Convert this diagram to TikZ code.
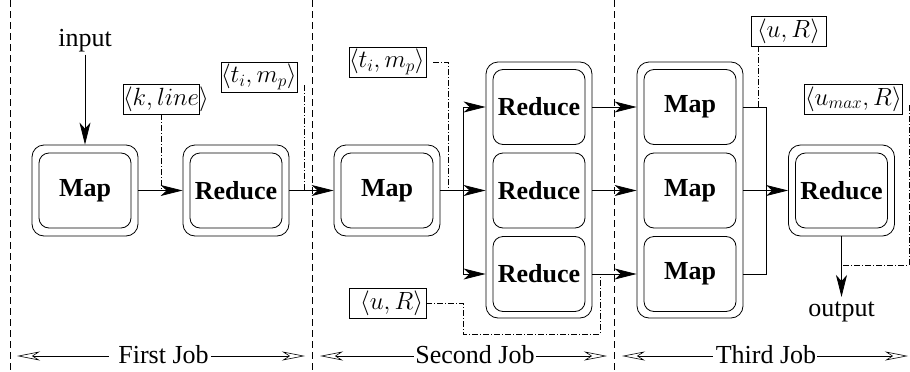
\documentclass[tikz,border=0pt]{standalone}
\usepackage{fontspec}
\setmainfont{Liberation Serif}
\usetikzlibrary{arrows.meta}
\tikzset{jtip/.tip={Stealth[open,length=23pt,width=9pt,inset=7pt]},
  atip/.tip={Stealth[length=22pt,width=11pt,inset=6pt]}}
\begin{document}
\begin{tikzpicture}[x=1pt,y=-1pt,
  every node/.style={font=\fontsize{26}{30}\selectfont, inner sep=0pt},
  outerbox/.style={draw, rounded corners=12pt, line width=0.8pt, minimum width=106pt},
  innerbox/.style={draw, rounded corners=10pt, line width=0.8pt, minimum width=92pt, minimum height=75pt, font=\fontsize{26}{30}\selectfont\bfseries},
  arr/.style={-atip, line width=0.8pt},
  conn/.style={line width=0.8pt},
  dd/.style={line width=0.6pt, dash pattern=on 6pt off 2pt on 1pt off 2pt},
  lbox/.style={draw, line width=0.6pt, minimum height=30pt, inner sep=0pt, font=\fontsize{26.5}{30}\selectfont},
  sepline/.style={line width=0.6pt, dash pattern=on 7pt off 4pt},
  jobarr/.style={line width=0.6pt}]
\useasboundingbox (0,0) rectangle (910,372);

% separators
\draw[sepline] (10,0) -- (10,372);
\draw[sepline] (312,0) -- (312,372);
\draw[sepline] (614,0) -- (614,372);

% first job
\node[outerbox, minimum height=91pt] (m1o) at (85,190.5) {};
\node[innerbox] (m1) at (85,190.5) {Map};
\node[outerbox, minimum height=91pt] (r1o) at (236,190.5) {};
\node[innerbox] (r1) at (236,190.5) {Reduce};

% second job
\node[outerbox, minimum height=91pt] (m2o) at (387,190.5) {};
\node[innerbox] (m2) at (387,190.5) {Map};
\node[outerbox, minimum height=256pt] (rco) at (539,190) {};
\node[innerbox] (rc1) at (539,107) {Reduce};
\node[innerbox] (rc2) at (539,190.5) {Reduce};
\node[innerbox] (rc3) at (539,274) {Reduce};

% third job
\node[outerbox, minimum height=256pt] (mco) at (690,190) {};
\node[innerbox] (mc1) at (690,107) {Map};
\node[innerbox] (mc2) at (690,190.5) {Map};
\node[innerbox] (mc3) at (690,274) {Map};
\node[outerbox, minimum height=91pt] (r3o) at (841.5,190.5) {};
\node[innerbox] (r3) at (841.5,190.5) {Reduce};

% input / output
\node (in) at (85,41) {input};
\node[anchor=north] (out) at (841.5,302) {output};
\draw[arr] (in.south) ++(0,2) -- (m1o.north);
\draw[arr] (r3o.south) -- ([yshift=5pt]out.north);

% connectors
\draw[arr] (m1o.east) -- (r1o.west);
\draw[arr] (r1o.east) -- (m2o.west |- r1o.east);
\coordinate (s2) at (463,190.5);
\draw[conn] (m2o.east) -- (s2);
\draw[conn] (s2 |- rc1) -- (s2 |- rc3);
\draw[arr] (s2 |- rc1) -- (rco.west |- rc1);
\draw[arr] (s2) -- (rco.west |- rc2);
\draw[arr] (s2 |- rc3) -- (rco.west |- rc3);
\draw[arr] (rco.east |- rc1) -- (mco.west |- rc1);
\draw[arr] (rco.east |- rc2) -- (mco.west |- rc2);
\draw[arr] (rco.east |- rc3) -- (mco.west |- rc3);
\coordinate (s3) at (766,190.5);
\draw[conn] (mco.east |- mc1) -- (s3 |- mc1) -- (s3 |- mc3) -- (mco.east |- mc3);
\draw[arr] (mco.east |- mc2) -- (r3o.west);

% labels
\node[lbox] (kl) at (161,99) {\makebox[76pt][l]{$\langle k, line\rangle$}};
\draw[dd] (kl.south) -- (kl.south |- m1o.east);

\node[lbox] (tm1) at (259,77) {\makebox[76pt][l]{$\langle t_i, m_p\rangle$}};
\coordinate (tm1e) at (304,85);
\draw[dd] (tm1e) -- (tm1e |- r1o.east);

\node[lbox] (tm2) at (387.5,62) {\makebox[77pt][l]{$\langle t_i, m_p\rangle$}};
\coordinate (tm2e) at (433,62);
\coordinate (d2) at (448,190.5);
\draw[dd] (tm2e) -| (d2);

\node[lbox] (urb) at (387.5,303) {\makebox[77pt][r]{$\langle u, R\rangle$\hspace{3pt}}};
\coordinate (b1) at (463,334);
\coordinate (b2) at (600,276);
\draw[dd] (urb.east) -| (b1) -| (b2);

\node[lbox] (urt) at (788.5,31) {\makebox[75pt][c]{$\langle u, R\rangle$}};
\coordinate (t1) at (758,107);
\draw[dd] (urt.south -| t1) -- (t1);

\node[lbox] (um) at (853,99) {\makebox[98pt][l]{\hspace{1pt}$\langle u_{max}, R\rangle$}};
\coordinate (um1) at (909,105);
\coordinate (um2) at (841.5,265);
\draw[dd] (um1) |- (um2);

% job labels
\node (j1) at (163.5,355) {First Job};
\node (j2) at (475,355) {Second Job};
\node (j3) at (766,355) {Third Job};
\coordinate (j1l) at (17,356);
\coordinate (j1r) at (305,356);
\coordinate (j2l) at (320,356);
\coordinate (j2r) at (607,356);
\coordinate (j3l) at (622,356);
\coordinate (j3r) at (908,356);
\draw[jobarr, jtip-] (j1l) -- ([xshift=-9pt]j1.west |- j1l);
\draw[jobarr, -jtip] ([xshift=2pt]j1.east |- j1r) -- (j1r);
\draw[jobarr, jtip-] (j2l) -- ([xshift=-1pt]j2.west |- j2l);
\draw[jobarr, -jtip] ([xshift=1pt]j2.east |- j2r) -- (j2r);
\draw[jobarr, jtip-] (j3l) -- ([xshift=-3pt]j3.west |- j3l);
\draw[jobarr, -jtip] ([xshift=1pt]j3.east |- j3r) -- (j3r);
\end{tikzpicture}
\end{document}
